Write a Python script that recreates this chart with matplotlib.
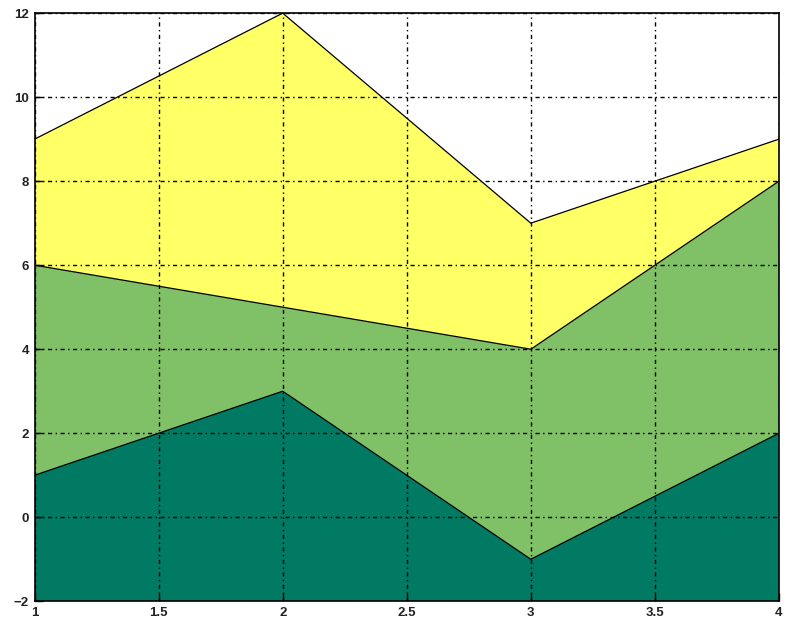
import matplotlib
matplotlib.use("Agg")
import matplotlib.pyplot as plt
import numpy as np

# data
x = [1, 2, 3, 4]
y1 = [1, 3, -1, 2]
y2 = [5, 2, 5, 6]
y3 = [3, 7, 3, 1]
base = -2
colors = ["#007a63", "#80c066", "#ffff66"]

fig = plt.figure(figsize=(7.86, 6.25), dpi=100)
ax = fig.add_axes([0.044, 0.038, 0.947, 0.941])

bottom = np.full(len(x), base, dtype=float)
top = np.zeros(len(x))
for ys, c in zip([y1, y2, y3], colors):
    top = top + np.array(ys, dtype=float)
    ax.fill_between(x, bottom, top, facecolor=c, edgecolor="none", zorder=1)
    ax.plot(x, top, color="black", lw=0.9, zorder=3)
    bottom = top.copy()

ax.set_xlim(1, 4)
ax.set_ylim(-2, 12)
ax.set_xticks([1, 1.5, 2, 2.5, 3, 3.5, 4])
ax.set_xticklabels(["1", "1.5", "2", "2.5", "3", "3.5", "4"])
ax.set_yticks(range(-2, 13, 2))
ax.set_yticklabels(["\u22122", "0", "2", "4", "6", "8", "10", "12"])
ax.grid(True, color="black", linestyle=(0, (3, 2.5, 1, 2.5)), lw=1.0, zorder=2)
ax.set_axisbelow(False)
ax.tick_params(direction="in", length=6, width=1, labelsize=9.5, pad=4)
for lab in ax.get_xticklabels() + ax.get_yticklabels():
    lab.set_fontfamily("Liberation Sans")
    lab.set_fontweight("bold")
    lab.set_color("#222222")
for s in ax.spines.values():
    s.set_linewidth(1.2)
    s.set_zorder(4)

fig.savefig("out.png", dpi=100)
